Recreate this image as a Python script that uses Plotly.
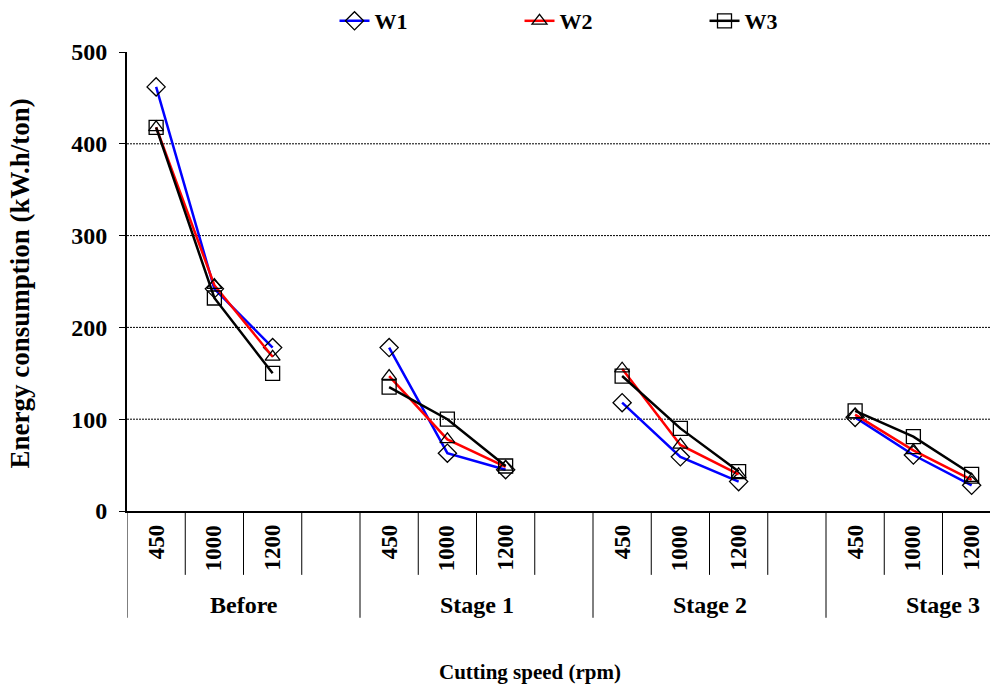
import plotly.graph_objects as go

# Cutting stages and spindle speeds
groups = ["Before", "Stage 1", "Stage 2", "Stage 3"]
speeds = ["450", "1000", "1200"]

# Energy consumption (kW.h/ton) per stage, ordered 450 / 1000 / 1200 rpm
w1 = [462, 242, 178, 178, 63, 45, 118, 59, 32, 102, 61, 28]
w2 = [418, 246, 168, 147, 78, 48, 155, 72, 40, 105, 66, 34]
w3 = [418, 232, 150, 135, 100, 49, 147, 90, 43, 109, 81, 40]

y_ticks = [0, 100, 200, 300, 400, 500]
grid_vals = [100, 200, 300, 400]

FONT = "Liberation Serif, Times New Roman, serif"
SLOTS = 4  # three speeds plus one empty slot per stage


def slot_positions():
    xs = []
    for g in range(len(groups)):
        for i in range(len(speeds)):
            xs.append(g * SLOTS + i)
    return xs


def broken(values):
    """Insert gaps so each stage is drawn as a separate line segment."""
    xs, ys = [], []
    pos = slot_positions()
    n = len(speeds)
    for g in range(len(groups)):
        xs += pos[g * n:(g + 1) * n] + [None]
        ys += values[g * n:(g + 1) * n] + [None]
    return xs, ys


series = [
    ("W1", w1, "#0000FF", "diamond-open", 14),
    ("W2", w2, "#FF0000", "triangle-up-open", 13),
    ("W3", w3, "#000000", "square-open", 14),
]

fig = go.Figure()
for name, vals, color, symbol, size in series:
    xs, ys = broken(vals)
    fig.add_trace(go.Scatter(
        x=xs, y=ys, name=name, mode="lines+markers",
        line=dict(color=color, width=2.5),
        marker=dict(symbol=symbol, size=size, color="black",
                    line=dict(color="black", width=1.3)),
        connectgaps=False,
    ))

L, T, B = 127, 51, 173
W, H = 990, 684
plot_h = H - T - B
slot_px = 58.25
x_end = -0.5 + (W - L) / slot_px


def py_to_paper(py):
    return (H - B - py) / plot_h


shapes = []
# dotted horizontal gridlines
for v in grid_vals:
    shapes.append(dict(type="line", xref="paper", yref="y", x0=0, x1=1,
                       y0=v, y1=v,
                       line=dict(color="black", width=1, dash="2px,1px"),
                       layer="below"))
# category separators below the axis
n_slots = len(groups) * SLOTS
for k in range(n_slots):
    xb = k - 0.5
    if xb > x_end:
        break
    is_group = (k % SLOTS == 0)
    y_bottom = py_to_paper(618 if is_group else 575)
    shapes.append(dict(type="line", xref="x", yref="paper", x0=xb, x1=xb,
                       y0=0, y1=y_bottom, line=dict(color="black", width=1)))

annotations = []
LBL = 23
# rotated speed labels, their ends aligned just under the axis
for g in range(len(groups)):
    for i, s in enumerate(speeds):
        text_len = len(s) * 0.5 * LBL
        annotations.append(dict(
            x=g * SLOTS + i, y=py_to_paper(525 + text_len / 2),
            xref="x", yref="paper",
            text=s, textangle=-90, showarrow=False, yanchor="middle",
            xanchor="center",
            font=dict(family=FONT, size=LBL, color="black", weight="bold")))
    annotations.append(dict(
        x=g * SLOTS + 1.5, y=py_to_paper(605), xref="x", yref="paper",
        text=groups[g], showarrow=False, yanchor="middle", xanchor="center",
        font=dict(family=FONT, size=24, color="black", weight="bold")))

annotations.append(dict(
    x=(530 - L) / (W - L), y=py_to_paper(672), xref="paper", yref="paper",
    text="Cutting speed (rpm)", showarrow=False, xanchor="center",
    yanchor="middle",
    font=dict(family=FONT, size=21, color="black", weight="bold")))
annotations.append(dict(
    x=(20 - L) / (W - L), y=py_to_paper(283), xref="paper", yref="paper",
    text="Energy consumption (kW.h/ton)", textangle=-90, showarrow=False,
    xanchor="center", yanchor="middle",
    font=dict(family=FONT, size=27, color="black", weight="bold")))

fig.update_layout(
    width=W, height=H,
    margin=dict(l=L, r=0, t=T, b=B),
    paper_bgcolor="white", plot_bgcolor="white",
    font=dict(family=FONT, size=21, color="black", weight="bold"),
    showlegend=True,
    legend=dict(orientation="h", x=0.562, xanchor="center",
                y=py_to_paper(20), yanchor="middle",
                entrywidth=140, entrywidthmode="pixels",
                font=dict(family=FONT, size=22, color="black", weight="bold"),
                bgcolor="rgba(0,0,0,0)"),
    xaxis=dict(range=[-0.5, x_end], showgrid=False, zeroline=False,
               showticklabels=False, ticks="", showline=True,
               linecolor="black", linewidth=2, fixedrange=True),
    yaxis=dict(range=[0, 500], tickvals=y_ticks, showgrid=False,
               zeroline=False, showline=True, linecolor="black", linewidth=2,
               ticks="outside", ticklen=6, tickcolor="black", tickwidth=1,
               ticklabelstandoff=7,
               tickfont=dict(family=FONT, size=24, color="black", weight="bold"),
               fixedrange=True),
    shapes=shapes,
    annotations=annotations,
)

fig.write_html("out.html")
